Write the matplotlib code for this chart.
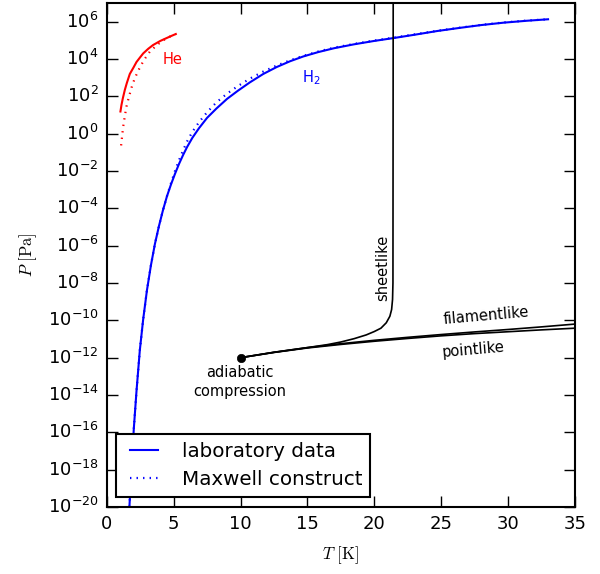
import numpy as np
import matplotlib
matplotlib.use('Agg')
import matplotlib.pyplot as plt
from matplotlib.ticker import FixedLocator, NullLocator, LogFormatterSciNotation

# values: temperature in K, log10 of pressure in Pa
he_T = [1.02, 1.10, 1.20, 1.35, 1.50, 1.72, 2.00, 2.22, 2.50, 2.72, 3.10, 3.46, 4.00, 4.46, 4.90, 5.16]
he_logP = [1.19, 1.55, 1.90, 2.35, 2.72, 3.20, 3.55, 3.84, 4.10, 4.30, 4.55, 4.75, 4.97, 5.12, 5.26, 5.34]

he_max_T = [1.07, 1.15, 1.22, 1.35, 1.47, 1.65, 1.85, 2.09, 2.42, 2.77, 3.22, 3.76, 4.46, 5.16]
he_max_logP = [-0.63, -0.10, 0.35, 0.95, 1.45, 1.96, 2.47, 2.97, 3.47, 3.94, 4.40, 4.76, 5.12, 5.34]

h2_T = [1.69, 1.85, 2.02, 2.22, 2.47, 2.72, 3.0, 3.3, 3.6, 3.9, 4.2, 4.5, 4.8, 5.1, 5.4, 5.7,
        6.0, 6.4, 6.9, 7.5, 8.2, 9.0, 9.8, 10.7, 11.7, 12.7, 13.7, 14.7, 15.8, 17.0, 18.5,
        20.0, 21.5, 23.0, 24.7, 26.4, 28.0, 29.7, 31.4, 33.0]
h2_logP = [-20.0, -17.9, -15.8, -13.8, -11.6, -9.95, -8.4, -7.05, -5.9, -4.95, -4.1, -3.35, -2.72,
           -2.15, -1.62, -1.15, -0.72, -0.22, 0.30, 0.85, 1.35, 1.87, 2.30, 2.75, 3.20, 3.57,
           3.88, 4.14, 4.37, 4.58, 4.79, 4.97, 5.13, 5.30, 5.50, 5.67, 5.82, 5.95, 6.05, 6.13]

h2_max_T = [1.69, 1.85, 2.02, 2.22, 2.47, 2.72, 3.0, 3.3, 3.6, 3.9, 4.2, 4.5, 4.8, 5.1, 5.4, 5.7,
            6.0, 6.4, 6.9, 7.5, 8.2, 9.0, 9.8, 10.7, 11.7, 12.7, 13.7, 14.7, 15.8, 17.0, 18.5,
            20.0, 21.5, 23.0, 24.7, 26.4, 28.0, 29.7, 31.4, 33.0]
h2_max_logP = [-20.0, -17.9, -15.8, -13.8, -11.6, -9.95, -8.4, -7.05, -5.9, -4.95, -4.1, -3.35, -2.65,
               -2.0, -1.42, -0.9, -0.42, 0.10, 0.62, 1.15, 1.68, 2.15, 2.55, 2.95, 3.33, 3.65,
               3.93, 4.17, 4.40, 4.61, 4.81, 4.99, 5.15, 5.32, 5.51, 5.68, 5.83, 5.96, 6.06, 6.13]

point_T = [10, 12.5, 15, 17.5, 20, 22.5, 25, 27.5, 30, 32.5, 35]
point_logP = [-12.0, -11.72, -11.48, -11.29, -11.12, -10.97, -10.83, -10.71, -10.61, -10.51, -10.42]

fil_T = [10, 12.5, 15, 17.5, 20, 22.5, 25, 27.5, 30, 32.5, 35]
fil_logP = [-12.0, -11.71, -11.46, -11.25, -11.07, -10.91, -10.76, -10.62, -10.49, -10.35, -10.20]

sheet_T = [10, 12.5, 15, 16.5, 17.5, 18.5, 19.4, 20.0, 20.5, 20.9, 21.17, 21.3, 21.37, 21.4, 21.42]
sheet_logP = [-12.0, -11.71, -11.46, -11.3, -11.16, -10.98, -10.78, -10.6, -10.42, -10.13, -9.78,
              -9.42, -8.88, -8.0, 8.0]

start_T = 10
start_logP = -12.0

plt.style.use('classic')
plt.rcParams['figure.facecolor'] = 'white'
plt.rcParams['savefig.facecolor'] = 'white'
plt.rcParams['axes.linewidth'] = 1.5
plt.rcParams['mathtext.fontset'] = 'dejavusans'

fig = plt.figure(figsize=(6, 5.74), dpi=100)
ax = fig.add_axes([0.178, 0.1167, 0.78, 0.878])

dots = (1, 3.7)
ax.plot(he_T, 10**np.array(he_logP), color='red', lw=1.5)
ax.plot(he_max_T, 10**np.array(he_max_logP), color='red', lw=1.6, ls=(0, dots))
ax.plot(h2_T, 10**np.array(h2_logP), color='blue', lw=1.5, label='laboratory data')
ax.plot(h2_max_T, 10**np.array(h2_max_logP), color='blue', lw=1.6, ls=(0, dots),
        label='Maxwell construct')

ax.plot(point_T, 10**np.array(point_logP), color='black', lw=1.2)
ax.plot(fil_T, 10**np.array(fil_logP), color='black', lw=1.2)
ax.plot(sheet_T, 10**np.array(sheet_logP), color='black', lw=1.2)
ax.plot([start_T], [10**start_logP], 'o', color='black', ms=6)

ax.set_yscale('log')
ax.set_xlim(0, 35)
ax.set_ylim(1e-20, 1e7)
ax.yaxis.set_major_locator(FixedLocator(10.0**np.arange(-20, 7, 2)))
ax.yaxis.set_minor_locator(NullLocator())
ax.yaxis.set_major_formatter(LogFormatterSciNotation())
ax.tick_params(labelsize=13, length=8, width=1, pad=6)

ax.text(4.2, 9e3, 'He', color='red', fontsize=10.5, va='center')
ax.text(15.3, 1e3, r'H$_2$', color='blue', fontsize=10.5, ha='center', va='center')
ax.text(20.6, 10**-7.17, 'sheetlike', rotation=90, fontsize=10.5, ha='center', va='center')
ax.text(28.35, 10**-9.74, 'filamentlike', rotation=5, fontsize=10.5, ha='center', va='center')
ax.text(27.4, 10**-11.6, 'pointlike', rotation=5, fontsize=10.5, ha='center', va='center')
ax.text(9.95, 10**-13.3, 'adiabatic\ncompression', fontsize=10.5, ha='center', va='center',
        multialignment='center', linespacing=1.3)

ax.set_xlabel(r'$T\ [\mathrm{K}]$', fontsize=12, math_fontfamily='cm', labelpad=8)
ax.set_ylabel(r'$P\ [\mathrm{Pa}]$', fontsize=12, math_fontfamily='cm', labelpad=6)

leg = ax.legend(loc='lower left', bbox_to_anchor=(0.02, 0.02), borderaxespad=0,
                fontsize=14.3, numpoints=2, handlelength=2, handletextpad=0.9,
                labelspacing=0.45, borderpad=0.4)
leg.get_frame().set_linewidth(1.5)

fig.savefig('out.png', dpi=100)
